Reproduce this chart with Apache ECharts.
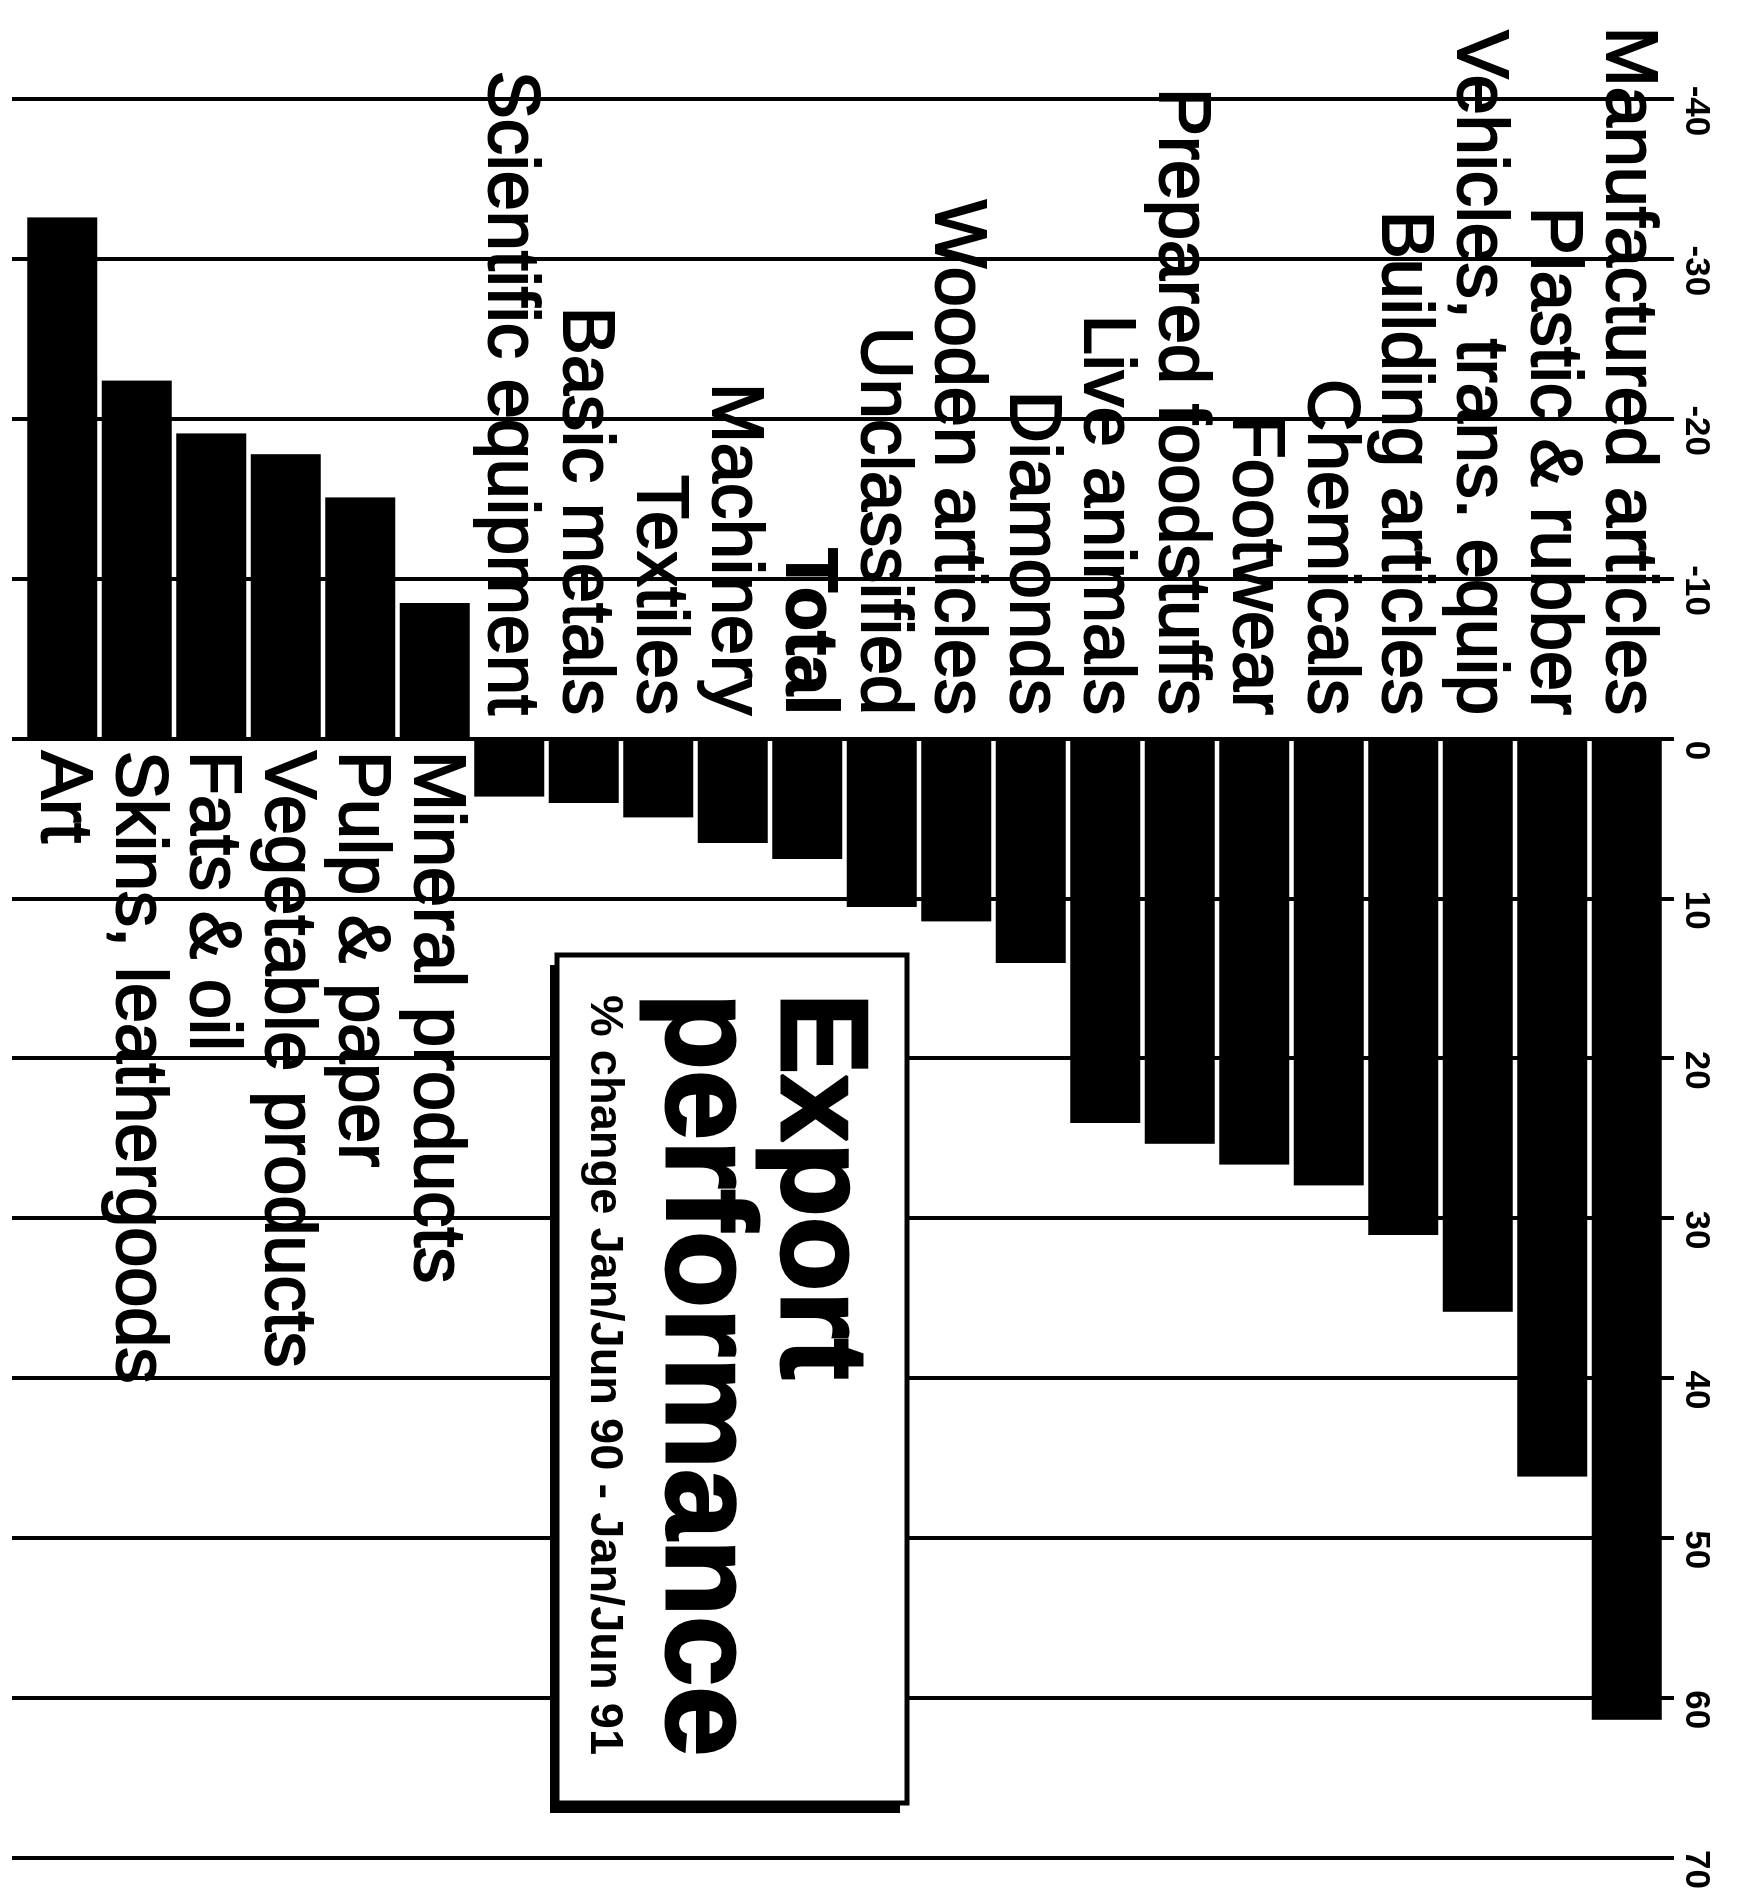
<!DOCTYPE html>
<html>
<head>
<meta charset="utf-8">
<title>Export performance</title>
<script src="https://cdn.jsdelivr.net/npm/echarts@6/dist/echarts.min.js"></script>
<style>
  html, body { margin: 0; padding: 0; background: #fff; overflow: hidden; }
  body { width: 1756px; height: 1892px; position: relative; }
  /* The chart is laid out as a horizontal bar chart and turned a quarter
     turn clockwise, so the category labels read from top to bottom. */
  #chart {
    position: absolute; left: 0; top: 0;
    width: 1892px; height: 1756px;
    transform-origin: 0 0;
    transform: translateX(1756px) rotate(90deg);
  }
</style>
</head>
<body>
<div id="chart"></div>
<script>
// Export performance, % change Jan/Jun 90 - Jan/Jun 91
const categories = [
  'Manufactured articles', 'Plastic & rubber', 'Vehicles, trans. equip',
  'Building articles', 'Chemicals', 'Footwear', 'Prepared foodstuffs',
  'Live animals', 'Diamonds', 'Wooden articles', 'Unclassified', 'Total',
  'Machinery', 'Textiles', 'Basic metals', 'Scientific equipment',
  'Mineral products', 'Pulp & paper', 'Vegetable products', 'Fats & oil',
  'Skins, leathergoods', 'Art'
];
const changePct = [
  61.3, 46.1, 35.8, 31.0, 27.9, 26.6, 25.3, 24.0, 14.0, 11.4, 10.5, 7.5,
  6.5, 4.9, 4.0, 3.6, -8.5, -15.1, -17.8, -19.1, -22.4, -32.6
];
const tickValues = [-40, -30, -20, -10, 0, 10, 20, 30, 40, 50, 60, 70];
const tickLabels = ['-40', '-30', '-20', '-10', '0', '10', '20', '30', '40', '50', '60', '70'];
const highlighted = ['Total'];

const titleText = 'Export';
const titleText2 = 'performance';
const subtitleText = '% change Jan/Jun 90 - Jan/Jun 91';

const FONT = '"Liberation Sans", Arial, Helvetica, sans-serif';

const barData = changePct.map((v, i) => ({
  value: v,
  label: {
    position: v >= 0 ? 'left' : 'right',
    distance: v >= 0 ? 24 : 12,
    fontWeight: highlighted.includes(categories[i]) ? 'bold' : 'normal'
  }
}));

const chart = echarts.init(document.getElementById('chart'), null, { renderer: 'canvas' });

chart.setOption({
  animation: false,
  backgroundColor: '#ffffff',
  grid: [
    { left: 99, right: 33, top: 92, bottom: 25 },    // bars
    { left: 99, right: 33, top: 82, bottom: 12 }     // full-length rules + scale
  ],
  xAxis: [
    { gridIndex: 0, type: 'value', min: -40, max: 70, interval: 10, show: false },
    {
      gridIndex: 1, type: 'value', min: -40, max: 70, interval: 10,
      position: 'top',
      axisLine: { show: false },
      axisTick: { show: false },
      splitLine: { show: true, lineStyle: { color: '#000', width: 4 } },
      axisLabel: {
        show: true,
        showMinLabel: true,
        showMaxLabel: true,
        color: '#000',
        fontFamily: FONT,
        fontSize: 35,
        fontWeight: 'bold',
        margin: 4,
        padding: [0, 0, 0, 24],
        formatter: (v) => {
          const i = tickValues.indexOf(Math.round(v));
          return i >= 0 ? tickLabels[i] : '';
        }
      }
    }
  ],
  yAxis: [
    { gridIndex: 0, type: 'category', data: categories, inverse: true, show: false },
    { gridIndex: 1, type: 'value', show: false }
  ],
  series: [{
    type: 'bar',
    xAxisIndex: 0,
    yAxisIndex: 0,
    data: barData,
    barCategoryGap: '6%',
    itemStyle: { color: '#000' },
    label: {
      show: true,
      formatter: (p) => p.name,
      color: '#000',
      fontFamily: FONT,
      fontSize: 72,
      textBorderColor: '#000',
      textBorderWidth: 2
    }
  }],
  graphic: [
    // title panel with a heavy offset edge
    { type: 'rect', z: 100, shape: { x: 965, y: 856, width: 848, height: 350 }, style: { fill: '#000' } },
    { type: 'rect', z: 101, shape: { x: 955, y: 849, width: 848, height: 350 },
      style: { fill: '#fff', stroke: '#000', lineWidth: 5 } },
    { type: 'text', z: 102, x: 993, y: 940,
      style: { text: titleText, font: 'bold 122px ' + FONT, fill: '#000',
               stroke: '#000', lineWidth: 3, align: 'left', verticalAlign: 'middle' } },
    { type: 'text', z: 102, x: 993, y: 1054,
      style: { text: titleText2, font: 'bold 126px ' + FONT, fill: '#000',
               stroke: '#000', lineWidth: 3, align: 'left', verticalAlign: 'middle' } },
    { type: 'text', z: 102, x: 995, y: 1152,
      style: { text: subtitleText, font: 'bold 47px ' + FONT, fill: '#000',
               align: 'left', verticalAlign: 'middle' } }
  ]
});
</script>
</body>
</html>
